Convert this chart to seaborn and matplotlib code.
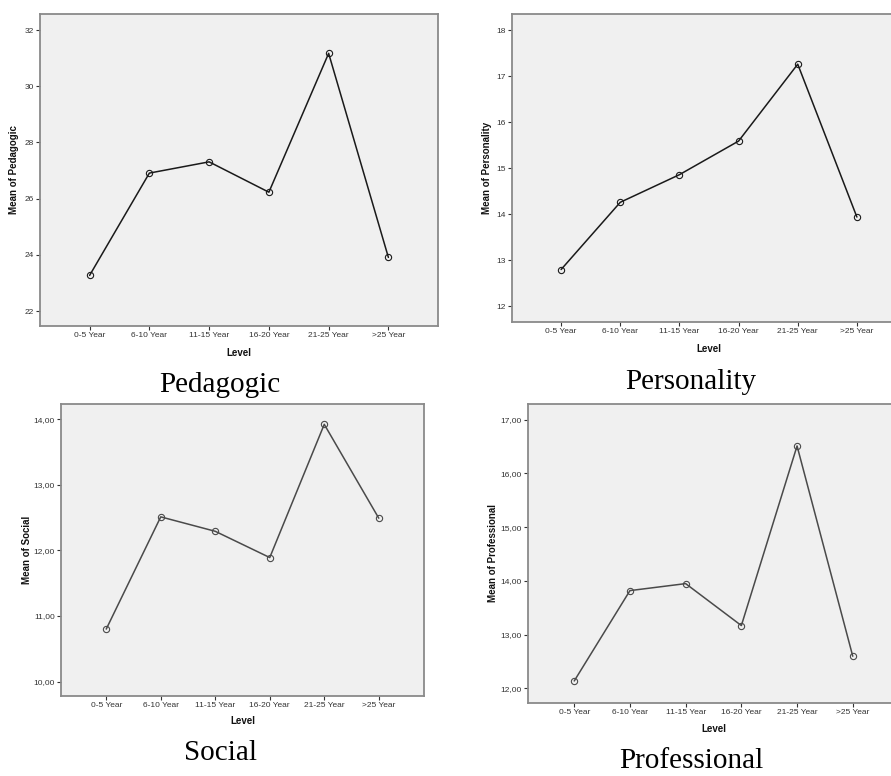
import numpy as np
import pandas as pd
import seaborn as sns
import matplotlib.pyplot as plt
from matplotlib.ticker import FixedLocator, FuncFormatter

# data
levels = ["0-5 Year", "6-10 Year", "11-15 Year", "16-20 Year", "21-25 Year", ">25 Year"]
pedagogic = [23.27, 26.91, 27.31, 26.23, 31.17, 23.91]
personality = [12.80, 14.26, 14.86, 15.59, 17.26, 13.94]
social = [10.80, 12.51, 12.29, 11.89, 13.92, 12.49]
professional = [12.14, 13.82, 13.95, 13.17, 16.51, 12.60]

sns.set_style("ticks")
plt.rcParams["font.family"] = ["Liberation Sans", "DejaVu Sans"]

W, H = 891, 776
fig = plt.figure(figsize=(W / 100, H / 100), dpi=100)


def fx(x):
    return x / W


def fy(y):
    return 1 - y / H


def make_ax(left, top, right, bottom):
    return fig.add_axes([fx(left), fy(bottom), (right - left) / W, (bottom - top) / H])


panels = [
    # values, name, box (l, t, r, b), ylim, yticks, comma fmt, line color, ylabel x, ylabel y, xlabel y, title xy
    (pedagogic, "Pedagogic", (40, 14, 438, 326), (21.47, 32.57), [22, 24, 26, 28, 30, 32], False, "#1a1a1a", 14, 170, 353, (220, 392)),
    (personality, "Personality", (512, 14, 906, 322), (11.66, 18.35), [12, 13, 14, 15, 16, 17, 18], False, "#1a1a1a", 487, 168, 349, (691, 389)),
    (social, "Social", (61, 404, 424, 696), (9.78, 14.23), [10, 11, 12, 13, 14], True, "#4a4a4a", 27, 550, 721, (220, 760)),
    (professional, "Professional", (528, 404, 899, 703), (11.73, 17.29), [12, 13, 14, 15, 16, 17], True, "#4a4a4a", 493, 553, 729, (691, 768)),
]

for vals, name, box, ylim, yticks, comma, col, ylx, yly, xly, txy in panels:
    ax = make_ax(*box)
    ax.set_facecolor("#f0f0f0")
    df = pd.DataFrame({"Level": levels, "Mean": vals})
    sns.lineplot(data=df, x="Level", y="Mean", ax=ax, sort=False, color=col, lw=1.1,
                 marker="o", markersize=4.5, markerfacecolor="none",
                 markeredgecolor=col, markeredgewidth=0.8)
    ax.set_xlim(-0.83, 5.83)
    ax.set_ylim(*ylim)
    ax.yaxis.set_major_locator(FixedLocator(yticks))
    if comma:
        ax.yaxis.set_major_formatter(FuncFormatter(lambda v, p: f"{v:.2f}".replace(".", ",")))
    else:
        ax.yaxis.set_major_formatter(FuncFormatter(lambda v, p: f"{v:.0f}"))
    ax.tick_params(direction="out", length=3, width=0.8, color="#333333",
                   labelsize=6, labelcolor="#333333", pad=1.5)
    for s in ax.spines.values():
        s.set_visible(True)
        s.set_color("#8a8a8a")
        s.set_linewidth(1.3)

    ax.set_ylabel("Mean of " + name, fontsize=7, fontweight="bold", color="#111111")
    ax.yaxis.set_label_coords(fx(ylx), fy(yly), transform=fig.transFigure)
    ax.yaxis.label.set_va("center")
    ax.set_xlabel("Level", fontsize=7, fontweight="bold", color="#111111")
    cx = (box[0] + box[2]) / 2
    ax.xaxis.set_label_coords(fx(cx), fy(xly), transform=fig.transFigure)
    ax.xaxis.label.set_va("center")

    fig.text(fx(txy[0]), fy(txy[1]), name, ha="center", va="baseline",
             fontsize=21, family=["Liberation Serif", "DejaVu Serif"], color="black")

fig.savefig("out.png", dpi=100, facecolor="white")
